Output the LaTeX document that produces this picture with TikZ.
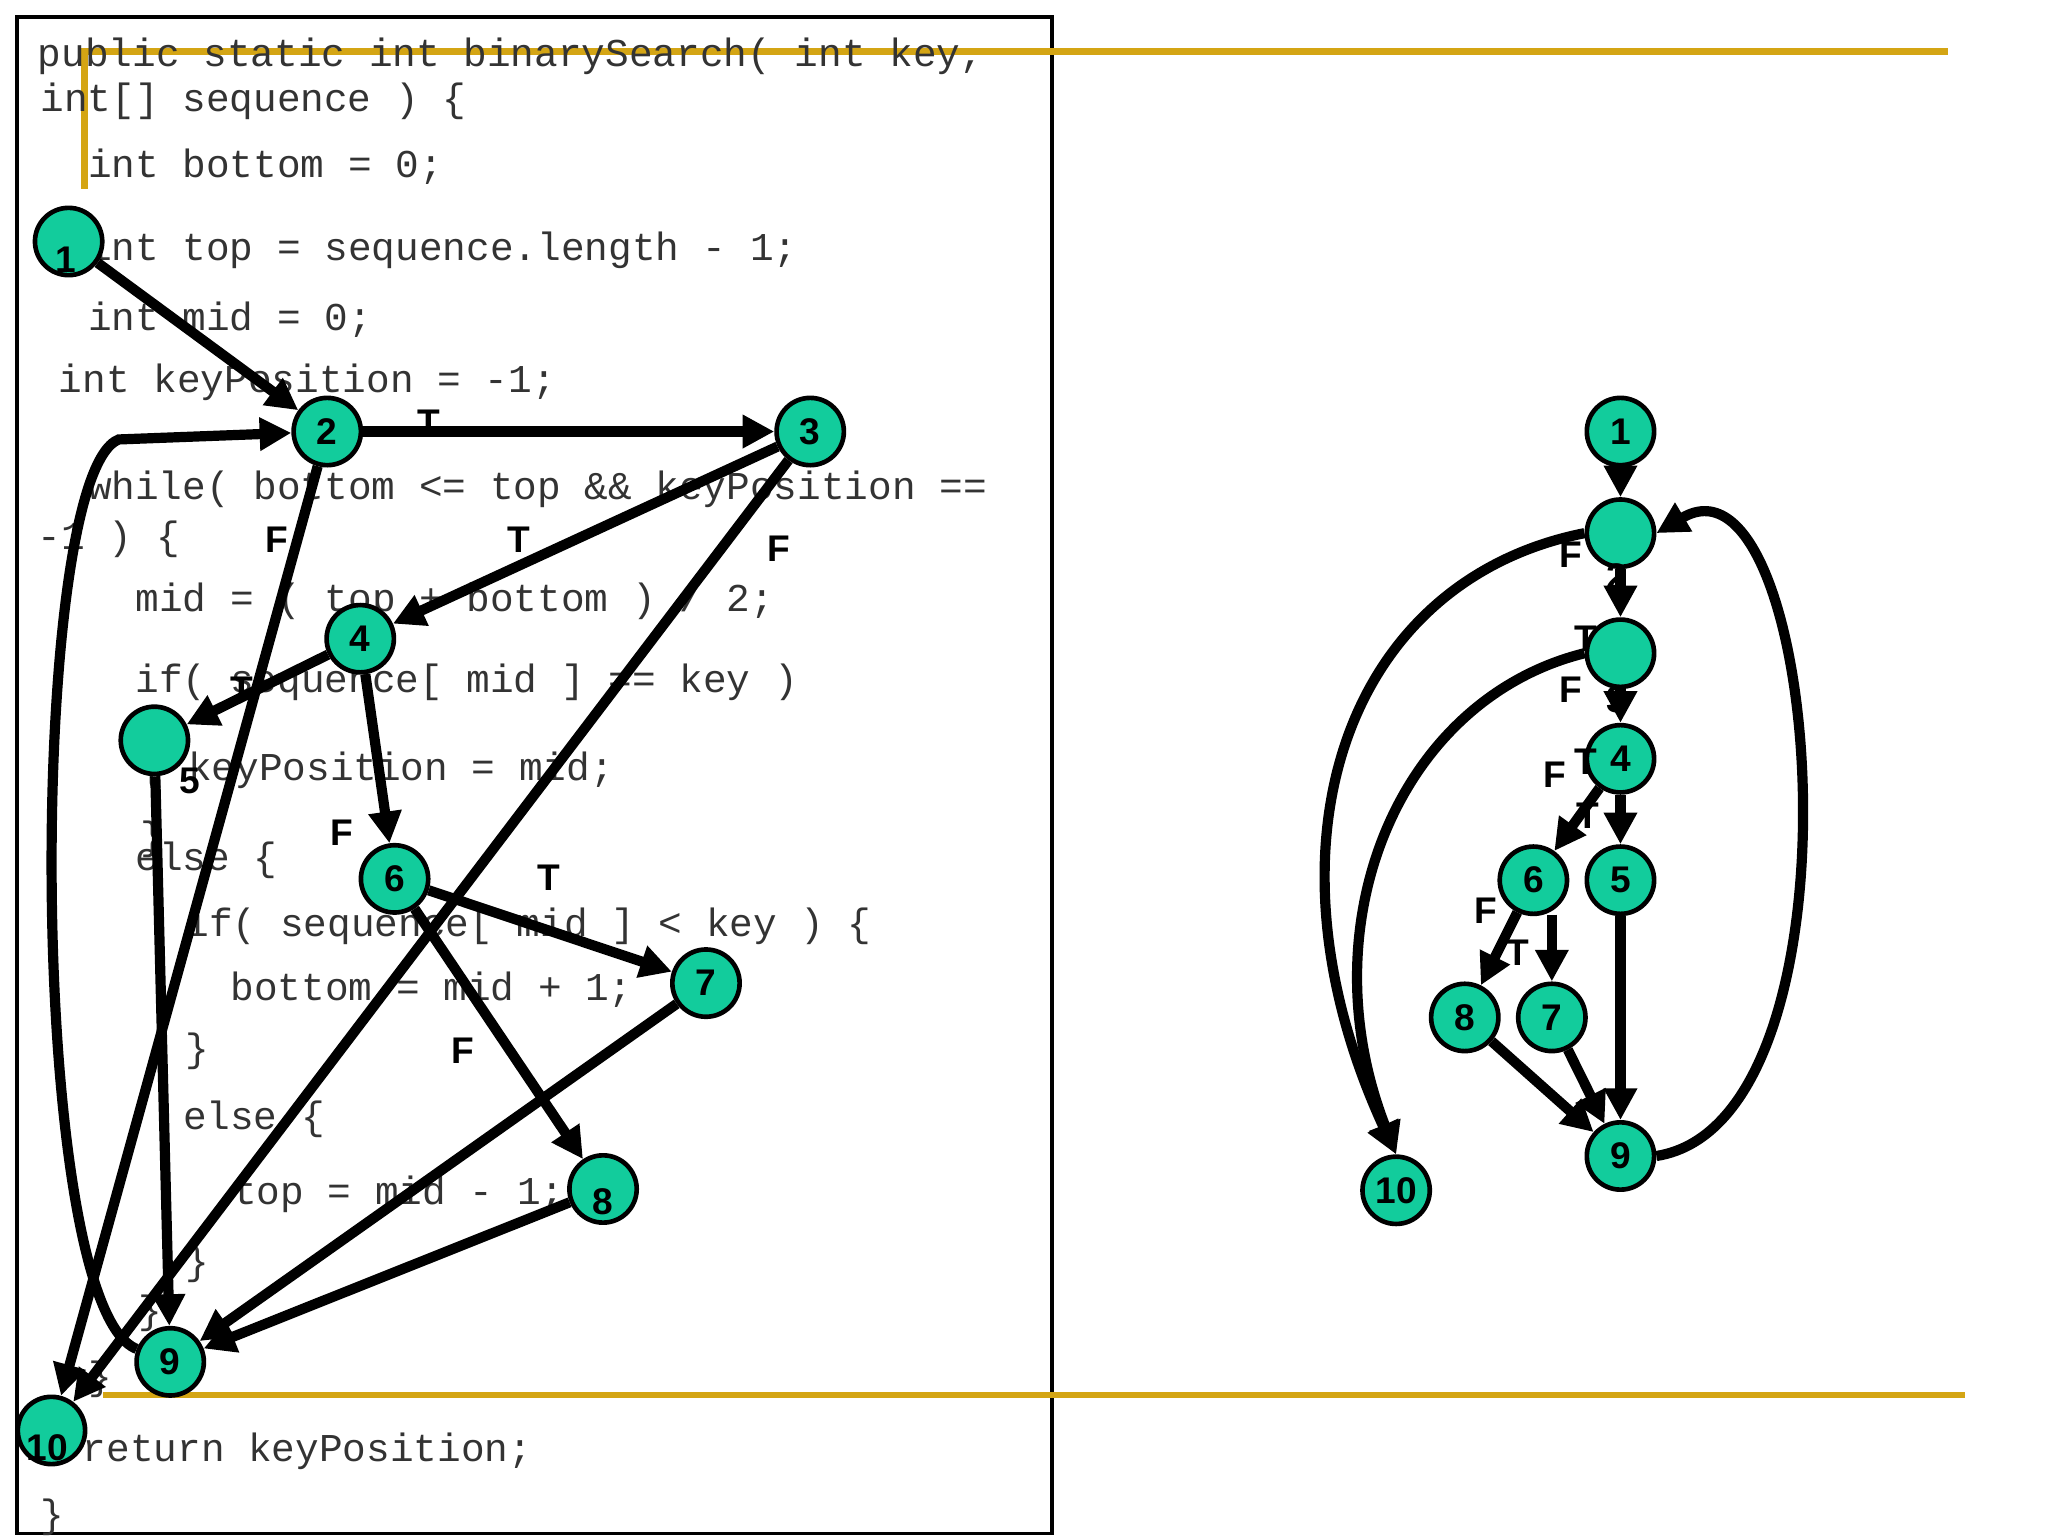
\documentclass[tikz,border=0pt]{standalone}
\usepackage{fontspec}
\setmainfont{Liberation Sans}
\newfontfamily\codefont{Liberation Mono}
\usetikzlibrary{arrows.meta}
\definecolor{nodegreen}{HTML}{12CC9C}
\definecolor{gold}{HTML}{D4A514}
\tikzset{
 cnode/.style={circle,draw=black,line width=1pt,fill=nodegreen,minimum size=5.1mm,inner sep=0pt,font=\bfseries\fontsize{8}{8}\selectfont},
 edge/.style={line width=2.2pt,-{Triangle[length=2.4mm,width=2.4mm]}},
 lab/.style={font=\bfseries\fontsize{8}{8}\selectfont},
 code/.style={anchor=west,inner sep=0pt,text=black!80,font=\codefont\fontsize{8.5}{9}\selectfont},
 goldline/.style={draw=gold,line width=1.4pt}
}
\begin{document}
\begin{tikzpicture}[x=0.1mm,y=-0.1mm]
\useasboundingbox (0,0) rectangle (1552,1164);
\draw[line width=0.8pt] (13,13) rectangle (797,1162);
\draw[goldline] (64,143) -- (64,39) -- (1476,39);
\draw[goldline] (78,1057) -- (1489,1057);
% code
\node[code] at (28,43) {public static int binarySearch( int key,};
\node[code] at (30,77) {int[] sequence ) \{};
\node[code] at (66,126) {int bottom = 0;};
\node[code] at (66,190) {int top = sequence.length - 1;};
\node[code] at (66,242) {int mid = 0;};
\node[code] at (44,290) {int keyPosition = -1;};
\node[code] at (66,371) {while( bottom <= top \&\& keyPosition ==};
\node[code] at (28,409) {-1 ) \{};
\node[code] at (102,456) {mid = ( top + bottom ) / 2;};
\node[code] at (102,517) {if( sequence[ mid ] == key )};
\node[code] at (106,584) {\{ keyPosition = mid;};
\node[code] at (106,636) {\}};
\node[code] at (102,652) {else \{};
\node[code] at (140,702) {if( sequence[ mid ] < key ) \{};
\node[code] at (174,750) {bottom = mid + 1;};
\node[code] at (140,797) {\}};
\node[code] at (138,848) {else \{};
\node[code] at (176,905) {top = mid - 1;};
\node[code] at (140,958) {\}};
\node[code] at (104,995) {\}};
\node[code] at (66,1045) {\}};
\node[code] at (62,1100) {return keyPosition;};
\node[code] at (30,1150) {\}};
% left graph
\node[cnode] (a1) at (52,183) {};
\node[lab] at (50,197) {1};
\node[cnode] (a2) at (248,327) {2};
\node[cnode] (a3) at (614,327) {3};
\node[cnode] (a4) at (273,484) {4};
\node[cnode] (a5) at (117,561) {};
\node[lab] at (144,592) {5};
\node[cnode] (a6) at (299,666) {6};
\node[cnode] (a7) at (535,745) {7};
\node[cnode] (a8) at (457,901) {};
\node[lab] at (457,911) {8};
\node[cnode] (a9) at (129,1032) {9};
\node[cnode] (a10) at (39,1084) {};
\node[lab] at (36,1097) {10};
\coordinate (c9) at (90,333);
\draw[edge] (a1) -- (a2);
\draw[edge] (a2) -- (a3);
\draw[edge] (a2) -- (a10);
\draw[edge] (a3) -- (a4);
\draw[edge] (a3) -- (a10);
\draw[edge] (a4) -- (a5);
\draw[edge] (a4) -- (a6);
\draw[edge] (a5) -- (a9);
\draw[edge] (a6) -- (a7);
\draw[edge] (a6) -- (a8);
\draw[edge] (a7) -- (a9);
\draw[edge] (a8) -- (a9);
\draw[edge] (a9) .. controls (20,990) and (20,360) .. (c9) -- (a2);
\node[lab] at (325,320) {T};
\node[lab] at (210,409) {F};
\node[lab] at (393,409) {T};
\node[lab] at (590,416) {F};
\node[lab] at (183,523) {T};
\node[lab] at (259,631) {F};
\node[lab] at (416,665) {T};
\node[lab] at (351,796) {F};
% right graph
\node[cnode] (b1) at (1228,327) {1};
\node[cnode] (b2) at (1228,404) {};
\node[lab] at (1225,437) {2};
\node[cnode] (b3) at (1228,495) {};
\node[lab] at (1225,530) {3};
\node[cnode] (b4) at (1228,575) {4};
\node[cnode] (b5) at (1228,667) {5};
\node[cnode] (b6) at (1162,667) {6};
\node[cnode] (b7) at (1176,771) {7};
\node[cnode] (b8) at (1110,771) {8};
\node[cnode] (b9) at (1228,876) {9};
\node[cnode] (b10) at (1058,902) {10};
\draw[edge] (b1) -- (b2);
\draw[edge] (b2) -- (b3);
\draw[edge] (b3) -- (b4);
\draw[edge] (b4) -- (b5);
\draw[edge] (b4) -- (b6);
\draw[edge] (1176,693) -- (b7);
\draw[edge] (b6) -- (b8);
\draw[edge] (b8) -- (b9);
\draw[edge] (b7) -- (b9);
\draw[edge] (b5) -- (b9);
\draw[edge] (b9.east) .. controls (1420,850) and (1380,330) .. (b2.east);
\draw[edge] (b2.west) .. controls (1020,440) and (950,640) .. (b10.north);
\draw[edge] (b3.west) .. controls (1060,530) and (990,700) .. (b10.north);
\node[lab] at (1190,420) {F};
\node[lab] at (1202,484) {T};
\node[lab] at (1190,523) {F};
\node[lab] at (1178,587) {F};
\node[lab] at (1202,577) {T};
\node[lab] at (1203,618) {T};
\node[lab] at (1126,690) {F};
\node[lab] at (1150,722) {T};
\end{tikzpicture}
\end{document}
